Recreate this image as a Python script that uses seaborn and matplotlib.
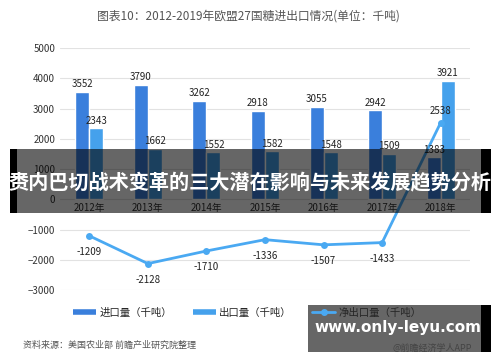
import numpy as np
import pandas as pd
import matplotlib
matplotlib.use("Agg")
import matplotlib.pyplot as plt
from matplotlib.patches import Rectangle
from matplotlib.lines import Line2D
import seaborn as sns

years = ["2012年", "2013年", "2014年", "2015年", "2016年", "2017年", "2018年"]
imports = [3552, 3790, 3262, 2918, 3055, 2942, 1383]
exports = [2343, 1662, 1552, 1582, 1548, 1509, 3921]
net_exports = [-1209, -2128, -1710, -1336, -1507, -1433, 2538]

c_imp = "#3a7fdc"
c_exp = "#45a1ec"
c_net = "#4aa9f2"

sns.set_style("white")
plt.rcParams["font.family"] = ["Noto Sans CJK SC", "DejaVu Sans"]

df = pd.DataFrame({
    "year": years * 2,
    "value": imports + exports,
    "kind": ["进口量（千吨）"] * len(years) + ["出口量（千吨）"] * len(years),
})

fig = plt.figure(figsize=(5, 3.62), dpi=100)
ax = fig.add_axes([0.12, 0.199, 0.82, 0.668])

sns.barplot(data=df, x="year", y="value", hue="kind", palette=[c_imp, c_exp],
            width=0.48, saturation=1, ax=ax, legend=False)
sns.lineplot(x=np.arange(len(years)), y=net_exports, color=c_net, lw=2,
             marker="o", markersize=5, markeredgewidth=0, ax=ax)

ax.set_ylim(-3000, 5000)
ax.set_xlim(-0.5, len(years) - 0.5)
ax.set_yticks(range(-3000, 5001, 1000))
ax.yaxis.grid(True, color="#e2e2e2", lw=0.8)
ax.set_axisbelow(True)
for s in ax.spines.values():
    s.set_visible(False)
ax.spines["bottom"].set_position(("data", 0))
ax.tick_params(axis="both", length=0, labelsize=7, colors="#333333")
ax.tick_params(axis="x", pad=3)
ax.set_xlabel("")
ax.set_ylabel("")

for cont in ax.containers:
    ax.bar_label(cont, padding=2, fontsize=7, color="#222222")

for i, v in enumerate(net_exports):
    if v > 0:
        ax.annotate(str(v), (i, v), xytext=(0, 5), textcoords="offset points",
                    ha="center", va="bottom", fontsize=7, color="#222222")
    else:
        ax.annotate(str(v), (i, v), xytext=(0, -8), textcoords="offset points",
                    ha="center", va="top", fontsize=7, color="#222222")

handles = [
    Line2D([], [], color=c_imp, lw=4, solid_capstyle="butt"),
    Line2D([], [], color=c_exp, lw=4, solid_capstyle="butt"),
    Line2D([], [], color=c_net, lw=2, marker="o", markersize=4),
]
fig.legend(handles, ["进口量（千吨）", "出口量（千吨）", "净出口量（千吨）"],
           loc="center", bbox_to_anchor=(0.495, 0.135), ncol=3, frameon=False,
           fontsize=7.5, handlelength=2.2, columnspacing=2.0, handletextpad=0.3)

fig.text(0.496, 0.955, "图表10：2012-2019年欧盟27国糖进出口情况(单位：千吨)",
         ha="center", va="center", fontsize=8.5, color="#555555")
fig.text(0.046, 0.045, "资料来源：美国农业部 前瞻产业研究院整理",
         ha="left", va="center", fontsize=6.5, color="#555555", style="italic")
fig.text(0.785, 0.038, "@前瞻经济学人APP", ha="left", va="center",
         fontsize=6.5, color="#444444")

# overlay banner
fig.add_artist(Rectangle((0.02, 0.412), 0.962 - 0.02, 0.588 - 0.412,
                         transform=fig.transFigure, color="black", alpha=0.6, lw=0))
fig.add_artist(Rectangle((0.02, 0.412), 0.014, 0.588 - 0.412,
                         transform=fig.transFigure, color="black", lw=0))
fig.add_artist(Rectangle((0.962, 0.412), 0.02, 0.588 - 0.412,
                         transform=fig.transFigure, color="black", lw=0))
fig.text(0.5, 0.495, "赉内巴切战术变革的三大潜在影响与未来发展趋势分析",
         ha="center", va="center", fontsize=14.5, color="white", weight="bold")

# bottom url box
fig.add_artist(Rectangle((0.616, 0.028), 0.962 - 0.616, 0.13,
                         transform=fig.transFigure, color="#666666", lw=0))
fig.add_artist(Rectangle((0.962, 0.028), 0.02, 0.13,
                         transform=fig.transFigure, color="black", lw=0))
fig.text(0.796, 0.095, "www.only-leyu.com", ha="center", va="center",
         fontsize=11, color="white", weight="bold", family=["DejaVu Sans"])

fig.savefig("out.png", dpi=100)
